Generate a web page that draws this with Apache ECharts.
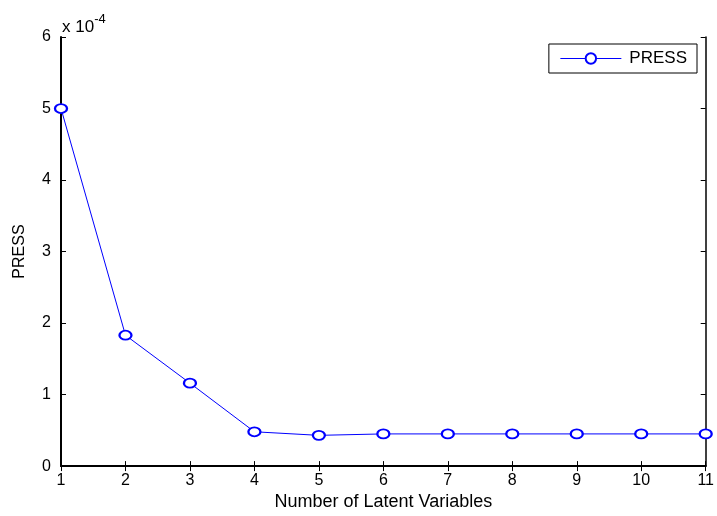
<!DOCTYPE html>
<html>
<head>
<meta charset="utf-8">
<script src="https://cdn.jsdelivr.net/npm/echarts@6/dist/echarts.min.js"></script>
<style>
  html, body { margin: 0; padding: 0; background: #fff; }
  #chart { width: 717px; height: 516px; }
</style>
</head>
<body>
<div id="chart"></div>
<script>
// Number of latent variables (x) and PRESS values in units of 1e-4
const latentVars = [1, 2, 3, 4, 5, 6, 7, 8, 9, 10, 11];
const pressValues = [5.0, 1.83, 1.16, 0.48, 0.43, 0.45, 0.45, 0.45, 0.45, 0.45, 0.45];
const yTicks = [0, 1, 2, 3, 4, 5, 6];
const xTicks = [1, 2, 3, 4, 5, 6, 7, 8, 9, 10, 11];
const seriesName = 'PRESS';
const xTitle = 'Number of Latent Variables';
const yTitle = 'PRESS';

const font = 'Liberation Sans, Arial, sans-serif';
const chart = echarts.init(document.getElementById('chart'), null, { renderer: 'canvas' });

const tickStyle = { show: true, inside: true, length: 5, lineStyle: { color: '#000', width: 1 } };
const blue = '#0000ff';

chart.setOption({
  animation: false,
  backgroundColor: '#fff',
  grid: { left: 61, top: 37, right: 11, bottom: 47, containLabel: false },
  legend: {
    data: [seriesName],
    right: 20,
    top: 44,
    orient: 'vertical',
    backgroundColor: '#fff',
    borderColor: '#000',
    borderWidth: 1,
    borderRadius: 0,
    padding: [6, 10, 6, 11],
    itemWidth: 61,
    itemHeight: 13,
    lineStyle: { width: 1 },
    itemStyle: { borderWidth: 1 },
    textStyle: { fontFamily: font, fontSize: 17, color: '#000', padding: [0, 0, 0, 3] }
  },
  xAxis: [{
    type: 'value',
    min: xTicks[0],
    max: xTicks[xTicks.length - 1],
    interval: 1,
    name: xTitle,
    nameLocation: 'middle',
    nameGap: 26,
    nameTextStyle: { fontFamily: font, fontSize: 18, color: '#000' },
    axisLine: { show: true, lineStyle: { color: '#000', width: 2 } },
    axisTick: tickStyle,
    axisLabel: { fontFamily: font, fontSize: 16, color: '#000', margin: 6 },
    splitLine: { show: false }
  }, {
    type: 'value',
    position: 'top',
    min: xTicks[0],
    max: xTicks[xTicks.length - 1],
    interval: 1,
    axisLine: { show: true, lineStyle: { color: '#000', width: 1.5 } },
    axisTick: tickStyle,
    axisLabel: { show: false },
    splitLine: { show: false }
  }],
  yAxis: [{
    type: 'value',
    min: yTicks[0],
    max: yTicks[yTicks.length - 1],
    interval: 1,
    name: yTitle,
    nameLocation: 'middle',
    nameGap: 33,
    nameTextStyle: { fontFamily: font, fontSize: 16, color: '#000' },
    axisLine: { show: true, lineStyle: { color: '#000', width: 2 } },
    axisTick: tickStyle,
    axisLabel: { fontFamily: font, fontSize: 16, color: '#000', margin: 10 },
    splitLine: { show: false }
  }, {
    type: 'value',
    position: 'right',
    min: yTicks[0],
    max: yTicks[yTicks.length - 1],
    interval: 1,
    axisLine: { show: true, lineStyle: { color: '#000', width: 1.5 } },
    axisTick: tickStyle,
    axisLabel: { show: false },
    splitLine: { show: false }
  }],
  series: [{
    name: seriesName,
    type: 'line',
    xAxisIndex: 0,
    yAxisIndex: 0,
    data: latentVars.map((x, i) => [x, pressValues[i]]),
    symbol: 'emptyCircle',
    symbolSize: [12, 9],
    lineStyle: { color: blue, width: 1 },
    itemStyle: { color: blue, borderColor: blue, borderWidth: 1 },
    clip: false
  }],
  graphic: [{
    type: 'text',
    left: 62,
    top: 13,
    style: {
      text: '{b|x 10}{s|-4}',
      rich: {
        b: { fontFamily: font, fontSize: 17, fill: '#000', verticalAlign: 'bottom', lineHeight: 22 },
        s: { fontFamily: font, fontSize: 13, fill: '#000', verticalAlign: 'top', padding: [0, 0, 10, 0] }
      }
    }
  }]
});
</script>
</body>
</html>
